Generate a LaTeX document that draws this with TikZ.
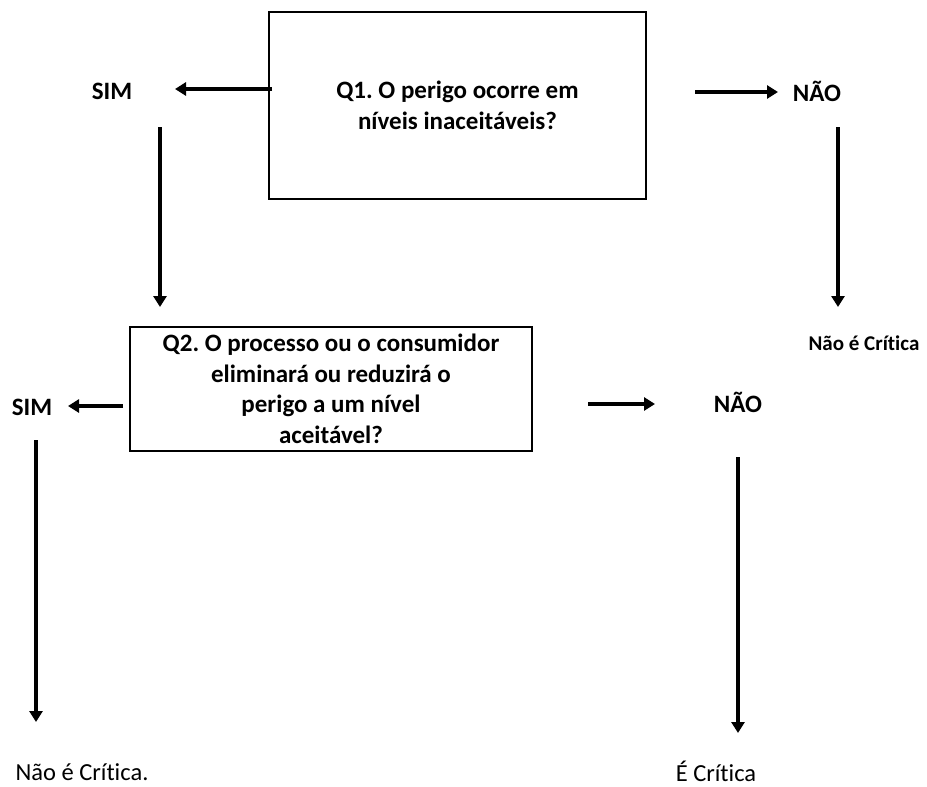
\documentclass[tikz,border=0pt]{standalone}
\usepackage{fontspec}
\setmainfont[Ligatures=NoCommon]{Carlito}
\usetikzlibrary{arrows.meta}
\tikzset{
  question/.style = {shape=rectangle, draw, line width=1.3pt,
                     align=center, font=\bfseries\fontsize{25}{30.5}\selectfont,
                     inner sep=0pt},
  answer/.style   = {font=\bfseries\fontsize{25}{29}\selectfont},
  result/.style   = {font=\bfseries\fontsize{21}{25}\selectfont},
  final/.style    = {font=\fontsize{24.5}{29}\selectfont, inner sep=1pt},
  flow/.style     = {line width=3.5pt, -{Triangle[length=11pt,width=13pt]}}
}
\begin{document}
\frenchspacing
\begin{tikzpicture}[x=1pt,y=-1pt]
  \useasboundingbox (0,0) rectangle (927,787);
  % questions
  \node[question, minimum width=377pt, minimum height=187pt] (q1) at (457.5,105.5)
    {Q1. O perigo ocorre em\\ níveis inaceitáveis?};
  \node[question, minimum width=402pt, minimum height=124pt] (q2) at (331,389)
    {Q2. O processo ou o consumidor\\
     eliminará ou reduzirá o\\
     perigo a um nível\\
     aceitável?};
  % answers
  \node[answer] (sim1) at (112,91) {SIM};
  \node[answer] (nao1) at (817,91) {NÃO};
  \node[answer] (sim2) at (32,407) {SIM};
  \node[answer] (nao2) at (738,402) {NÃO};
  % results
  \node[result] (nc1) at (864,343) {Não é Crítica};
  \node[final]  (nc2) at (82,772) {Não é Crítica.};
  \node[final]  (ec)  at (716,771) {É Crítica};
  % free ends
  \coordinate (l1) at (272,89);
  \coordinate (t1) at (175,89);
  \coordinate (a1) at (695,92);
  \coordinate (b1) at (778,92);
  \coordinate (l2) at (123,406);
  \coordinate (t2) at (68,406);
  \coordinate (a2) at (588,404);
  \coordinate (b2) at (655,404);
  \coordinate (s1) at (160,127);
  \coordinate (d1) at (160,307);
  \coordinate (s2) at (838,127);
  \coordinate (d2) at (838,307);
  \coordinate (s3) at (36,440);
  \coordinate (d3) at (36,722);
  \coordinate (s4) at (738,457);
  \coordinate (d4) at (738,733);
  % connectors
  \foreach \s/\d in {l1/t1, a1/b1, l2/t2, a2/b2, s1/d1, s2/d2, s3/d3, s4/d4} {
    \draw[flow] (\s) -- (\d);}
\end{tikzpicture}
\end{document}
